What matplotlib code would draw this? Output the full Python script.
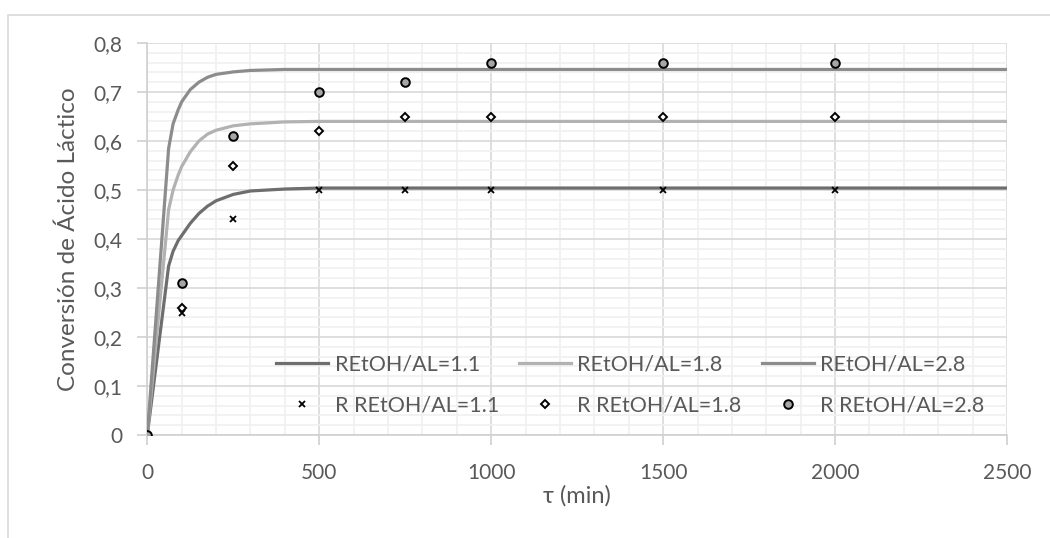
import matplotlib
matplotlib.use("Agg")
import matplotlib.pyplot as plt
from matplotlib.patches import Rectangle
from matplotlib.ticker import MultipleLocator, FuncFormatter

plt.rcParams['font.family'] = ['Lato', 'DejaVu Sans']

# Model curves (conversion vs residence time)
tau_model = [0, 62, 75, 90, 100, 125, 150, 175, 200, 250, 300, 400, 500, 1000, 2500]
model_11 = [0, 0.345, 0.375, 0.397, 0.407, 0.432, 0.452, 0.467, 0.478, 0.491, 0.498, 0.502, 0.504, 0.504, 0.504]
model_18 = [0, 0.460, 0.500, 0.531, 0.548, 0.578, 0.600, 0.614, 0.622, 0.631, 0.635, 0.639, 0.640, 0.640, 0.640]
model_28 = [0, 0.585, 0.635, 0.664, 0.680, 0.705, 0.720, 0.730, 0.736, 0.741, 0.744, 0.746, 0.746, 0.746, 0.746]

# Experimental points
tau_exp = [0, 100, 250, 500, 750, 1000, 1500, 2000]
exp_11 = [0, 0.25, 0.44, 0.50, 0.50, 0.50, 0.50, 0.50]
exp_18 = [0, 0.26, 0.55, 0.62, 0.65, 0.65, 0.65, 0.65]
exp_28 = [0, 0.31, 0.61, 0.70, 0.72, 0.76, 0.76, 0.76]

labels_model = ["REtOH/AL=1.1", "REtOH/AL=1.8", "REtOH/AL=2.8"]
labels_exp = ["R REtOH/AL=1.1", "R REtOH/AL=1.8", "R REtOH/AL=2.8"]

W, H = 1050, 538
fig = plt.figure(figsize=(W / 100, H / 100), dpi=100)
ax = fig.add_axes([147.3 / W, 1 - 435 / H, (1007 - 147.3) / W, (435 - 43) / H])

# outer chart frame
fig.patches.append(Rectangle((8 / W, -0.1), 1.2, (1 - 15 / H) + 0.1, transform=fig.transFigure,
                             fill=False, edgecolor='#d9d9d9', linewidth=1.2, zorder=0))

c11, c18, c28 = '#6e6e6e', '#b2b2b2', '#8c8c8c'
lw = 2.3
l11, = ax.plot(tau_model, model_11, color=c11, lw=lw, zorder=3, solid_joinstyle='round')
l18, = ax.plot(tau_model, model_18, color=c18, lw=lw, zorder=3, solid_joinstyle='round')
l28, = ax.plot(tau_model, model_28, color=c28, lw=lw, zorder=3, solid_joinstyle='round')

s11, = ax.plot(tau_exp, exp_11, ls='none', marker='x', ms=5, mew=1.3, color='black', zorder=4)
s18, = ax.plot(tau_exp, exp_18, ls='none', marker='D', ms=4.3, mew=1.4, mfc='white', mec='black', zorder=4)
s28, = ax.plot(tau_exp, exp_28, ls='none', marker='o', ms=6.2, mew=1.4, mfc='#a6a6a6', mec='black', zorder=5)

ax.set_xlim(0, 2500)
ax.set_ylim(0, 0.8)
ax.xaxis.set_major_locator(MultipleLocator(500))
ax.xaxis.set_minor_locator(MultipleLocator(100))
ax.yaxis.set_major_locator(MultipleLocator(0.1))
ax.yaxis.set_minor_locator(MultipleLocator(0.02))
ax.grid(which='major', color='#d9d9d9', lw=1.2, zorder=0)
ax.grid(which='minor', color='#f0f0f0', lw=1.2, zorder=0)
ax.set_axisbelow(True)

ax.yaxis.set_major_formatter(FuncFormatter(lambda v, p: ('%g' % round(v, 2)).replace('.', ',')))
ax.xaxis.set_major_formatter(FuncFormatter(lambda v, p: '%d' % v))

for s in ['top', 'right']:
    ax.spines[s].set_visible(False)
for s in ['left', 'bottom']:
    ax.spines[s].set_color('#d0d0d0')
    ax.spines[s].set_linewidth(1.2)
ax.tick_params(which='major', length=7, width=1.2, color='#d0d0d0', labelsize=15,
               labelcolor='#595959')
ax.tick_params(which='minor', length=0)
ax.tick_params(axis='y', pad=11)
ax.tick_params(axis='x', pad=13)

ax.set_ylabel('Conversión de Ácido Láctico', fontsize=17.5, color='#595959', labelpad=10)
ax.set_xlabel('τ (min)', fontsize=17, color='#595959', labelpad=2)

handles = [l11, s11, l18, s18, l28, s28]
labels = [labels_model[0], labels_exp[0], labels_model[1], labels_exp[1], labels_model[2], labels_exp[2]]
leg = ax.legend(handles, labels, ncol=3, loc='center', bbox_to_anchor=(0.562, 0.128),
                frameon=False, fontsize=15.5, handlelength=2.4, handletextpad=0.3,
                columnspacing=0.95, labelspacing=0.98, labelcolor='#595959')

fig.savefig('out.png', dpi=100, facecolor='white')
